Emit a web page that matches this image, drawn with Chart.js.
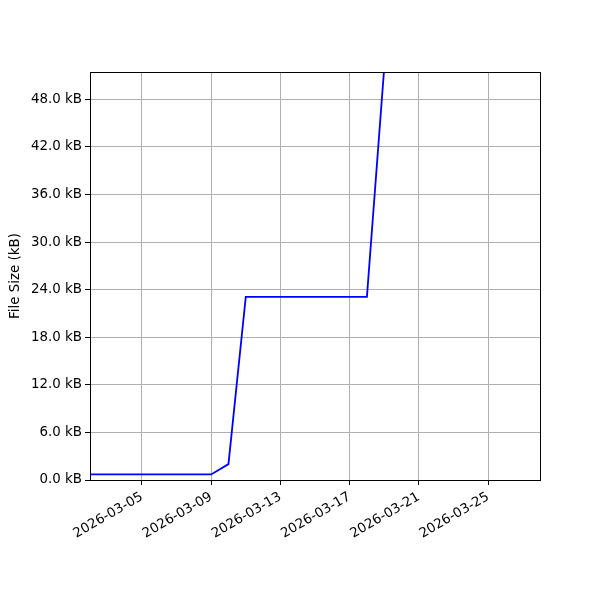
<!DOCTYPE html>
<html>
<head>
<meta charset="utf-8">
<script src="https://cdn.jsdelivr.net/npm/chart.js@4"></script>
<style>
  html, body { margin: 0; padding: 0; background: #fff; }
</style>
</head>
<body>
<canvas id="sizeChart" width="600" height="600"></canvas>
<script>
// data
const dates = ['2026-03-02', '2026-03-09', '2026-03-10', '2026-03-11', '2026-03-18', '2026-03-19'];
const sizesKB = [0.7, 0.7, 2.0, 23.1, 23.1, 52.0];
const xTickDates = ['2026-03-05', '2026-03-09', '2026-03-13', '2026-03-17', '2026-03-21', '2026-03-25'];
const yTicks = [0, 6, 12, 18, 24, 30, 36, 42, 48];
const xRange = ['2026-03-02', '2026-03-28'];
const yMax = 51.45;

const DAY = 86400000;
function toDay(s) {
    const p = s.split('-').map(Number);
    return Date.UTC(p[0], p[1] - 1, p[2]) / DAY;
}
function fromDay(d) {
    return new Date(Math.round(d) * DAY).toISOString().slice(0, 10);
}

const points = dates.map((d, i) => ({ x: toDay(d), y: sizesKB[i] }));

// matplotlib-ish frame around the plot area
const framePlugin = {
    id: 'frame',
    afterDraw(chart) {
        const a = chart.chartArea;
        const ctx = chart.ctx;
        ctx.save();
        ctx.strokeStyle = '#000';
        ctx.lineWidth = 1;
        ctx.strokeRect(Math.round(a.left) + 0.5, Math.round(a.top) + 0.5,
            Math.round(a.right - a.left), Math.round(a.bottom - a.top));
        ctx.restore();
    }
};

const font = { family: 'DejaVu Sans', size: 13.4 };

let sizeChartCanvas = document.getElementById('sizeChart').getContext('2d');
var sizeChart = new Chart(sizeChartCanvas, {
    type: 'line',
    data: {
        datasets: [{
            data: points,
            borderColor: '#0000ff',
            borderWidth: 1.8,
            pointRadius: 0,
            tension: 0,
            fill: false
        }]
    },
    options: {
        responsive: false,
        animation: false,
        layout: {
            padding: { top: 72, right: 60, left: 0, bottom: 0 }
        },
        plugins: {
            legend: { display: false },
            tooltip: { enabled: false }
        },
        scales: {
            x: {
                type: 'linear',
                min: toDay(xRange[0]),
                max: toDay(xRange[1]),
                afterBuildTicks(scale) {
                    scale.ticks = xTickDates.map(d => ({ value: toDay(d) }));
                },
                afterFit(scale) {
                    scale.height = 120;
                    scale.paddingLeft = 0;
                    scale.paddingRight = 0;
                },
                grid: {
                    color: '#b0b0b0',
                    tickColor: '#000',
                    tickLength: 5,
                    drawTicks: true
                },
                border: { display: true, color: '#000' },
                ticks: {
                    font: font,
                    color: '#000',
                    minRotation: 30,
                    maxRotation: 30,
                    autoSkip: false,
                    padding: 4,
                    callback: (v) => fromDay(v)
                }
            },
            y: {
                type: 'linear',
                min: 0,
                max: yMax,
                afterBuildTicks(scale) {
                    scale.ticks = yTicks.map(v => ({ value: v }));
                },
                afterFit(scale) {
                    scale.width = 90;
                },
                grid: {
                    color: '#b0b0b0',
                    tickColor: '#000',
                    tickLength: 5
                },
                border: { display: true, color: '#000' },
                title: {
                    display: true,
                    text: 'File Size (kB)',
                    font: font,
                    color: '#000',
                    padding: { top: 7, bottom: 4 }
                },
                ticks: {
                    font: font,
                    color: '#000',
                    padding: 3,
                    callback: (v) => v.toFixed(1) + ' kB'
                }
            }
        }
    },
    plugins: [framePlugin]
});
</script>
</body>
</html>
